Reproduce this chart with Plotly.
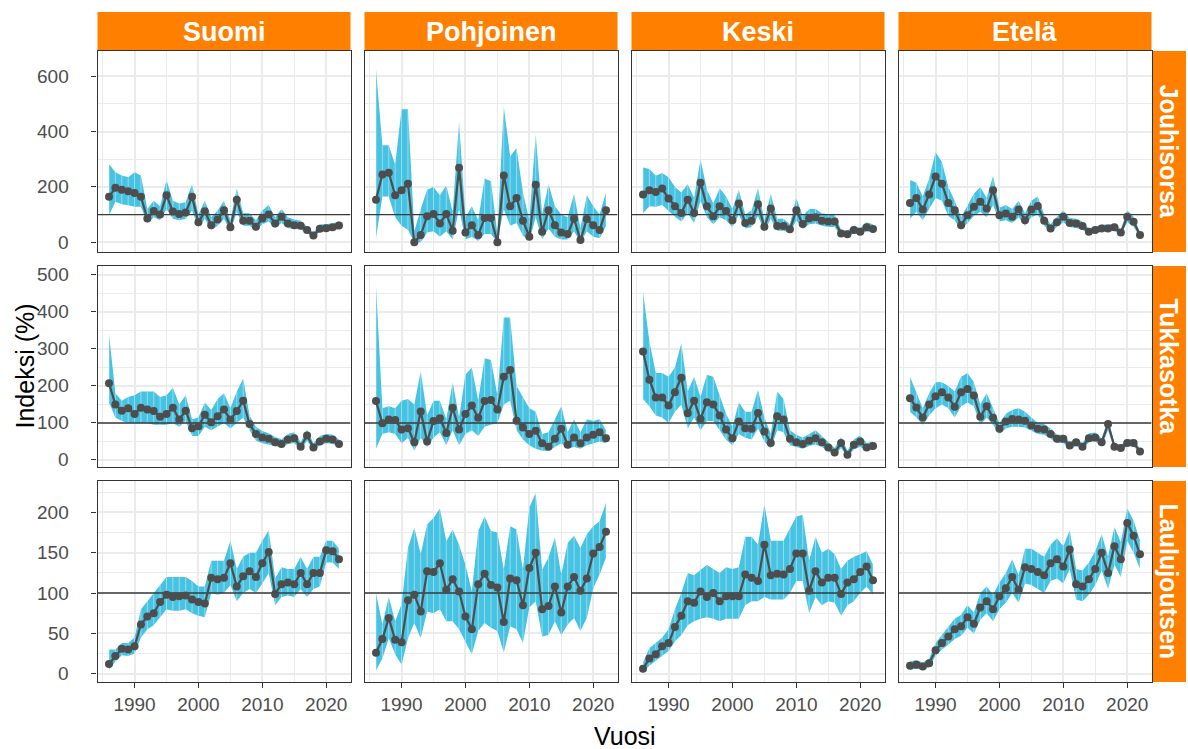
import plotly.graph_objects as go

W, H = 1188, 749

years = list(range(1986, 2023))
regions = ["Suomi", "Pohjoinen", "Keski", "Etelä"]
species = ["Jouhisorsa", "Tukkasotka", "Laulujoutsen"]
REFERENCE = 100

# ---- Jouhisorsa ----
suomi_jouhisorsa = [164,197,190,184,178,164,86,113,100,170,111,102,108,164,72,112,62,82,116,54,154,78,78,56,86,100,68,92,68,62,60,44,25,49,51,54,61]
suomi_jouhisorsa_lo = [98,146,137,134,128,128,70,90,80,120,85,80,85,115,55,85,45,60,85,40,110,60,60,42,65,75,52,70,52,48,47,34,18,38,40,42,48]
suomi_jouhisorsa_hi = [283,253,241,235,253,241,120,150,130,225,150,140,145,210,100,150,90,115,150,80,195,105,105,80,115,135,90,120,90,82,78,58,35,64,66,68,76]

pohjoinen_jouhisorsa = [154,245,251,170,188,211,0,26,94,102,68,102,42,269,35,62,26,88,88,0,241,130,160,78,20,208,38,116,62,35,30,86,8,84,62,44,116]
pohjoinen_jouhisorsa_lo = [15,165,165,90,60,45,0,0,35,40,20,40,10,120,10,20,5,30,30,0,120,60,70,25,5,90,10,50,20,10,10,40,0,40,20,15,60]
pohjoinen_jouhisorsa_hi = [625,350,350,280,480,480,40,120,190,200,170,205,110,435,90,130,80,230,220,30,490,310,340,180,80,390,100,210,130,100,90,175,50,170,130,100,180]

keski_jouhisorsa = [173,188,182,194,158,130,106,154,106,215,130,94,130,113,80,140,70,78,137,56,122,59,59,47,116,66,86,90,78,75,75,32,29,44,38,54,48]
keski_jouhisorsa_lo = [105,130,128,135,115,92,75,105,70,150,90,65,90,80,55,100,50,55,95,40,85,42,42,34,80,48,65,68,60,55,55,22,20,32,27,40,35]
keski_jouhisorsa_hi = [270,265,240,250,235,200,180,210,160,300,190,140,195,165,120,190,100,115,195,80,175,85,85,65,160,95,120,120,105,100,100,45,42,60,52,72,65]

etela_jouhisorsa = [142,160,118,173,238,211,142,116,62,98,128,146,122,188,98,104,92,118,80,118,131,78,50,72,92,70,68,59,38,44,50,50,54,35,92,74,26]
etela_jouhisorsa_lo = [85,110,80,120,160,150,95,80,45,70,95,110,90,135,75,80,70,90,60,90,100,60,38,55,72,55,52,45,28,34,38,38,42,26,72,56,18]
etela_jouhisorsa_hi = [225,215,165,230,325,290,200,150,90,135,175,200,160,240,125,135,120,150,105,150,165,100,65,92,115,88,85,75,50,56,64,64,68,46,115,92,36]

# ---- Tukkasotka ----
suomi_tukkasotka = [207,150,133,140,124,141,136,132,117,124,141,109,133,86,91,122,102,118,136,109,132,160,97,70,61,57,48,43,55,59,36,66,34,50,57,55,43]
suomi_tukkasotka_lo = [155,115,105,100,100,100,100,95,95,95,100,90,105,65,65,90,80,90,100,85,100,115,80,52,45,42,37,34,43,46,27,52,26,40,45,44,35]
suomi_tukkasotka_hi = [340,180,160,170,175,185,185,185,170,175,195,150,175,110,115,155,135,165,180,140,185,220,120,90,78,72,62,56,70,75,48,82,45,65,70,68,55]

pohjoinen_tukkasotka = [159,99,109,108,82,86,48,131,50,105,113,73,141,82,124,147,114,159,162,136,225,243,106,88,70,79,45,36,57,84,41,61,45,61,68,75,59]
pohjoinen_tukkasotka_lo = [30,70,75,70,45,60,25,60,35,60,75,40,80,40,70,80,65,90,95,100,150,160,80,55,40,30,25,25,35,45,30,35,30,40,45,50,45]
pohjoinen_tukkasotka_hi = [470,140,145,140,160,165,150,240,120,160,160,110,210,115,230,250,160,275,270,175,385,385,200,170,140,130,70,75,110,145,75,110,75,110,105,110,80]

keski_tukkasotka = [293,217,169,169,147,183,222,126,160,111,156,150,120,82,59,104,86,84,127,77,46,118,109,57,48,43,52,59,48,34,20,46,14,41,50,34,38]
keski_tukkasotka_lo = [165,145,120,115,100,130,150,85,115,80,105,105,80,55,40,70,60,55,85,50,30,80,75,40,35,30,38,42,35,24,12,32,8,28,36,24,28]
keski_tukkasotka_hi = [455,320,235,235,225,250,315,185,225,170,230,225,175,125,90,155,130,130,190,115,70,185,165,80,68,60,70,80,65,48,32,62,25,56,66,46,50]

etela_tukkasotka = [167,142,115,150,172,183,169,144,183,192,174,117,145,114,84,104,111,109,106,93,84,82,70,57,57,39,48,36,59,61,48,97,36,32,46,46,23]
etela_tukkasotka_lo = [130,115,95,120,140,150,140,115,145,155,145,95,115,95,70,85,90,90,88,78,70,68,58,46,46,30,38,28,48,50,38,80,28,25,37,37,18]
etela_tukkasotka_hi = [225,180,140,180,210,210,200,185,225,235,210,150,180,140,100,125,135,140,130,115,100,98,85,68,68,48,58,46,72,74,58,110,46,40,56,56,30]

# ---- Laulujoutsen ----
suomi_laulujoutsen = [12,22,31,30,34,61,71,75,89,98,95,96,97,92,89,87,119,117,119,137,108,121,127,120,137,151,99,111,113,111,125,111,125,125,153,152,142]
suomi_laulujoutsen_lo = [5,15,23,22,25,45,55,60,70,80,78,78,80,75,72,70,100,98,100,110,90,100,105,100,112,125,85,95,97,95,105,95,105,108,138,138,130]
suomi_laulujoutsen_hi = [30,30,38,38,45,80,90,100,110,120,120,120,120,115,108,108,140,140,140,165,130,145,150,150,165,178,118,132,130,130,145,130,145,145,165,165,155]

pohjoinen_laulujoutsen = [26,43,69,42,39,91,98,77,127,126,137,104,117,102,71,55,111,124,110,107,64,118,116,85,131,150,80,84,108,76,108,120,103,118,149,157,176]
pohjoinen_laulujoutsen_lo = [4,19,44,24,11,44,63,44,77,75,80,65,65,55,40,24,53,63,57,53,26,59,55,38,82,90,46,48,65,48,61,69,53,69,106,123,144]
pohjoinen_laulujoutsen_hi = [100,61,95,65,86,156,181,148,185,193,205,164,179,160,135,102,177,195,177,175,129,183,179,129,206,224,129,144,169,123,162,171,156,173,183,189,212]

keski_laulujoutsen = [6,19,24,34,38,58,72,90,88,102,95,100,90,96,96,96,123,119,115,160,122,124,123,130,149,149,103,127,113,119,119,99,113,117,126,133,116]
keski_laulujoutsen_lo = [2,10,15,22,28,40,48,60,65,68,70,68,65,68,68,68,85,90,90,95,92,92,92,100,115,115,75,95,85,90,88,72,85,90,100,108,98]
keski_laulujoutsen_hi = [14,32,38,45,55,80,100,125,122,128,135,130,125,132,130,132,170,170,160,210,165,165,165,180,195,197,140,170,150,155,148,130,140,145,148,152,135]

etela_laulujoutsen = [10,11,9,13,29,38,46,55,59,70,62,82,90,80,96,106,120,104,132,130,126,122,137,142,133,154,111,108,117,130,150,125,158,142,187,171,148]
etela_laulujoutsen_lo = [5,6,5,8,22,30,36,43,47,57,50,67,75,65,80,88,100,88,112,110,105,100,115,118,112,130,92,90,98,110,128,105,135,120,165,150,130]
etela_laulujoutsen_hi = [15,17,14,19,38,48,58,68,73,85,76,100,108,98,113,125,142,122,155,155,150,145,160,168,158,178,130,128,138,152,173,145,182,163,205,190,165]

x_ticks = [1990, 2000, 2010, 2020]
x_minor = [1985, 1995, 2005, 2015]
y_ticks = [[0, 200, 400, 600], [0, 100, 200, 300, 400, 500], [0, 50, 100, 150, 200]]
y_minor = [[100, 300, 500], [50, 150, 250, 350, 450], [25, 75, 125, 175, 225]]
y_ranges = [[-35, 690.6], [-19, 524], [-10.3, 239]]

panels = [
    [(suomi_jouhisorsa, suomi_jouhisorsa_lo, suomi_jouhisorsa_hi),
     (pohjoinen_jouhisorsa, pohjoinen_jouhisorsa_lo, pohjoinen_jouhisorsa_hi),
     (keski_jouhisorsa, keski_jouhisorsa_lo, keski_jouhisorsa_hi),
     (etela_jouhisorsa, etela_jouhisorsa_lo, etela_jouhisorsa_hi)],
    [(suomi_tukkasotka, suomi_tukkasotka_lo, suomi_tukkasotka_hi),
     (pohjoinen_tukkasotka, pohjoinen_tukkasotka_lo, pohjoinen_tukkasotka_hi),
     (keski_tukkasotka, keski_tukkasotka_lo, keski_tukkasotka_hi),
     (etela_tukkasotka, etela_tukkasotka_lo, etela_tukkasotka_hi)],
    [(suomi_laulujoutsen, suomi_laulujoutsen_lo, suomi_laulujoutsen_hi),
     (pohjoinen_laulujoutsen, pohjoinen_laulujoutsen_lo, pohjoinen_laulujoutsen_hi),
     (keski_laulujoutsen, keski_laulujoutsen_lo, keski_laulujoutsen_hi),
     (etela_laulujoutsen, etela_laulujoutsen_lo, etela_laulujoutsen_hi)],
]

# ---- layout geometry (pixels) ----
col_px = [(97.5, 350.5), (364.5, 617.5), (631.5, 884.5), (898.5, 1151.5)]
row_px = [(51, 252), (266, 467), (481, 682)]
strip_top = (12, 51)
strip_right = (1152, 1186)
ylabel_right_px = 71

span = years[-1] - years[0]
x_range = [years[0] - 0.05 * span, years[-1] + 0.05 * span]

BAND = "#46C2E2"
LINE = "#4D4D4D"
ORANGE = "#FF8000"
GRID = "#EBEBEB"
FONT = "Liberation Sans, Arial, sans-serif"


def px_x(p):
    return p / W


def px_y(p):
    return 1 - p / H


fig = go.Figure()
layout = dict(
    width=W, height=H, margin=dict(l=0, r=0, t=0, b=0),
    paper_bgcolor="white", plot_bgcolor="white", showlegend=False,
    font=dict(family=FONT, color="#4D4D4D"),
)
shapes = []
annotations = []

for r in range(3):
    for c in range(4):
        i = r * 4 + c + 1
        xs = "x" if i == 1 else f"x{i}"
        ys = "y" if i == 1 else f"y{i}"
        xk = "xaxis" if i == 1 else f"xaxis{i}"
        yk = "yaxis" if i == 1 else f"yaxis{i}"
        val, lo, hi = panels[r][c]

        # confidence band
        fig.add_trace(go.Scatter(
            x=years + years[::-1], y=hi + lo[::-1], fill="toself",
            fillcolor=BAND, line=dict(width=0), mode="lines",
            hoverinfo="skip", xaxis=xs, yaxis=ys))
        # thin seams inside band (ribbon segment edges)
        sx, sy = [], []
        for yr, a, b in zip(years, lo, hi):
            sx += [yr, yr, None]
            sy += [a, b, None]
        fig.add_trace(go.Scatter(
            x=sx, y=sy, mode="lines",
            line=dict(color="rgba(255,255,255,0.55)", width=0.8),
            hoverinfo="skip", xaxis=xs, yaxis=ys))
        # reference line
        fig.add_trace(go.Scatter(
            x=x_range, y=[REFERENCE, REFERENCE], mode="lines",
            line=dict(color="#3A3A3A", width=1.4),
            hoverinfo="skip", xaxis=xs, yaxis=ys))
        # index line with points
        fig.add_trace(go.Scatter(
            x=years, y=val, mode="lines+markers",
            line=dict(color=LINE, width=2.2),
            marker=dict(color=LINE, size=8),
            xaxis=xs, yaxis=ys))

        x0, x1 = col_px[c]
        y0, y1 = row_px[r]
        layout[xk] = dict(
            domain=[px_x(x0), px_x(x1)], anchor=ys, range=x_range,
            tickvals=x_ticks, showgrid=True, gridcolor=GRID, gridwidth=1.5,
            minor=dict(tickvals=x_minor, showgrid=True, gridcolor=GRID, gridwidth=0.8),
            zeroline=False, showline=True, mirror=True, linecolor="#333333", linewidth=1.2,
            showticklabels=(r == 2), ticks="outside" if r == 2 else "",
            ticklen=5, tickwidth=1.1, tickcolor="#333333",
            tickfont=dict(size=19, color="#4D4D4D", family=FONT),
            automargin=False, fixedrange=True)
        layout[yk] = dict(
            domain=[px_y(y1), px_y(y0)], anchor=xs, range=y_ranges[r],
            tickvals=y_ticks[r], showgrid=True, gridcolor=GRID, gridwidth=1.5,
            minor=dict(tickvals=y_minor[r], showgrid=True, gridcolor=GRID, gridwidth=0.8),
            zeroline=False, showline=True, mirror=True, linecolor="#333333", linewidth=1.2,
            showticklabels=False, ticks="outside" if c == 0 else "",
            ticklen=5, tickwidth=1.1, tickcolor="#333333",
            automargin=False, fixedrange=True)

        # y tick labels of the outer column, placed on the axis' own scale
        if c == 0:
            for tv in y_ticks[r]:
                annotations.append(dict(
                    text=str(tv), xref="paper", yref=ys, x=px_x(ylabel_right_px), y=tv,
                    showarrow=False, xanchor="right", yanchor="middle",
                    font=dict(size=19, color="#4D4D4D", family=FONT)))

# top strips
for c, name in enumerate(regions):
    x0, x1 = col_px[c]
    shapes.append(dict(type="rect", xref="paper", yref="paper",
                       x0=px_x(x0), x1=px_x(x1), y0=px_y(strip_top[1]), y1=px_y(strip_top[0]),
                       fillcolor=ORANGE, line=dict(width=0), layer="below"))
    annotations.append(dict(text=name, xref="paper", yref="paper",
                            x=px_x((x0 + x1) / 2), y=px_y((strip_top[0] + strip_top[1]) / 2 + 0.5),
                            showarrow=False, xanchor="center", yanchor="middle",
                            font=dict(size=27, color="white", family=FONT, weight="bold")))
# right strips
for r, name in enumerate(species):
    y0, y1 = row_px[r]
    shapes.append(dict(type="rect", xref="paper", yref="paper",
                       x0=px_x(strip_right[0]), x1=px_x(strip_right[1]), y0=px_y(y1), y1=px_y(y0),
                       fillcolor=ORANGE, line=dict(width=0), layer="below"))
    annotations.append(dict(text=name, xref="paper", yref="paper",
                            x=px_x((strip_right[0] + strip_right[1]) / 2), y=px_y((y0 + y1) / 2),
                            showarrow=False, xanchor="center", yanchor="middle", textangle=90,
                            font=dict(size=25, color="white", family=FONT, weight="bold")))

annotations.append(dict(text="Indeksi (%)", xref="paper", yref="paper",
                        x=px_x(24), y=px_y((row_px[0][0] + row_px[2][1]) / 2),
                        showarrow=False, xanchor="center", yanchor="middle", textangle=-90,
                        font=dict(size=25, color="black", family=FONT)))
annotations.append(dict(text="Vuosi", xref="paper", yref="paper",
                        x=px_x((col_px[0][0] + col_px[3][1]) / 2), y=px_y(736),
                        showarrow=False, xanchor="center", yanchor="middle",
                        font=dict(size=25, color="black", family=FONT)))

layout["shapes"] = shapes
layout["annotations"] = annotations
fig.update_layout(**layout)
fig.write_html("out.html")
